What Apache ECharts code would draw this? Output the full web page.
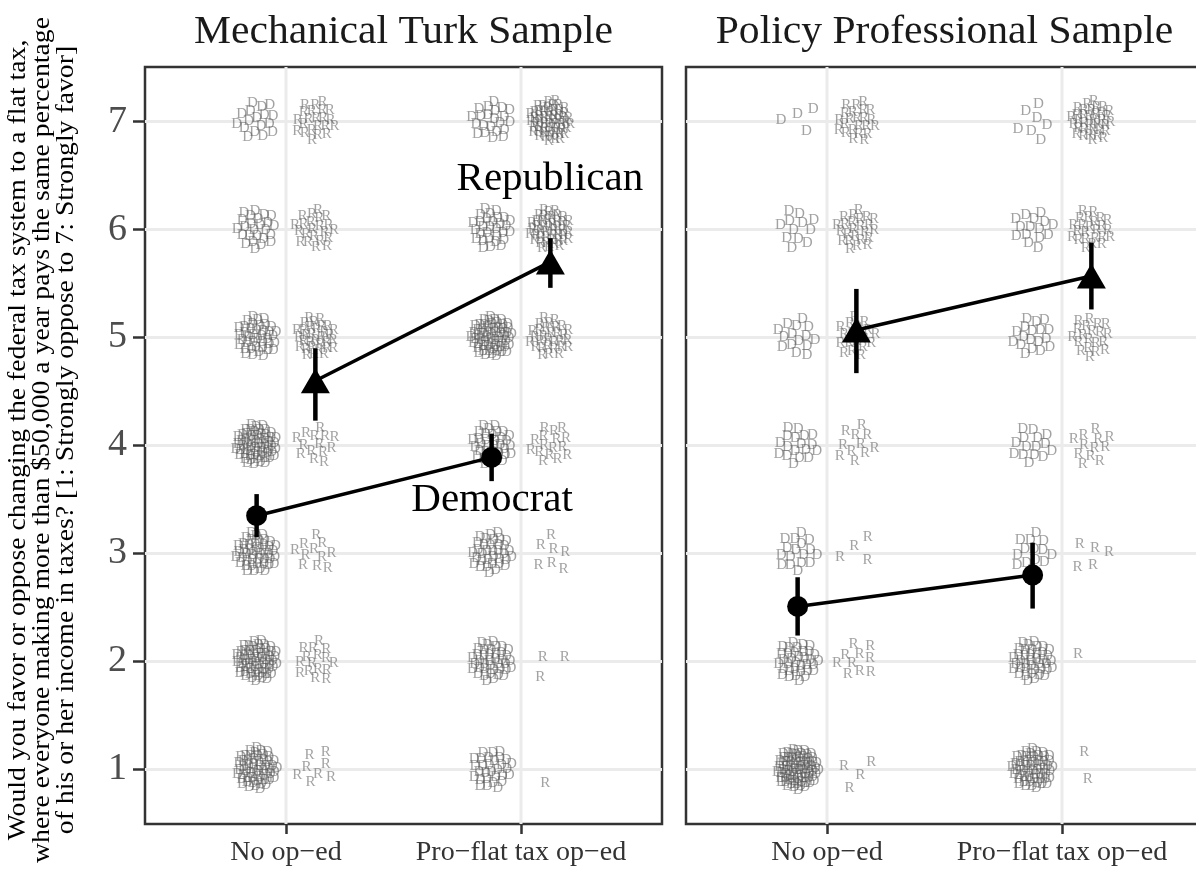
<!DOCTYPE html>
<html>
<head>
<meta charset="utf-8">
<script src="https://cdn.jsdelivr.net/npm/echarts@6/dist/echarts.min.js"></script>
<style>html,body{margin:0;padding:0;background:#fff;overflow:hidden}#c{width:1212px;height:873px}</style>
</head>
<body>
<div id="c"></div>
<script>
// ---------- data ----------
const panels = ['Mechanical Turk Sample', 'Policy Professional Sample'];
const conditions = ['No op\u2212ed', 'Pro\u2212flat tax op\u2212ed'];
const conditionPos = [1, 2];
const yTicks = [1, 2, 3, 4, 5, 6, 7];
// respondent counts at response levels 1..7
const mturkDemNoOped  = [55, 60, 45, 60, 40, 25, 17];
const mturkDemProOped = [30, 40, 35, 35, 60, 30, 22];
const mturkRepNoOped  = [8, 16, 11, 14, 32, 22, 22];
const mturkRepProOped = [1, 3, 7, 16, 30, 45, 55];
const profDemNoOped   = [75, 35, 17, 18, 15, 12, 4];
const profDemProOped  = [55, 40, 14, 15, 18, 15, 7];
const profRepNoOped   = [4, 10, 4, 11, 18, 24, 23];
const profRepProOped  = [2, 1, 5, 12, 20, 24, 35];
// means and 95% intervals [no op-ed, pro op-ed]
const mturkDemMean = [3.35, 3.89], mturkDemLo = [3.15, 3.67], mturkDemHi = [3.55, 4.11];
const mturkRepMean = [4.60, 5.70], mturkRepLo = [4.23, 5.46], mturkRepHi = [4.90, 5.92];
const profDemMean  = [2.51, 2.80], profDemLo  = [2.24, 2.49], profDemHi  = [2.78, 3.10];
const profRepMean  = [5.07, 5.57], profRepLo  = [4.67, 5.26], profRepHi  = [5.45, 5.88];
// in-plot labels (left panel)
const annoText = ['Republican', 'Democrat'];
const annoX = [2.123, 1.877];
const annoY = [6.47, 3.49];

// ---------- layout ----------
const DODGE = 0.125;
const RADIUS = 21;           // px spread of respondent letters
const GOLDEN = 2.399963;
const FONT = '"Liberation Serif", "Times New Roman", serif';
const gridTop = 67, gridH = 757, gridW = 517;
const gridLefts = [145, 686];
const xMin = 0.4, xMax = 2.6, yMin = 0.495, yMax = 7.505;

function spread(counts, xPos) {
  const out = [];
  counts.forEach((n, k) => {
    for (let i = 0; i < n; i++) {
      const r = RADIUS * Math.sqrt((i + 0.5) / n);
      const th = i * GOLDEN + k * 1.7 + xPos * 0.9;
      out.push([xPos, yTicks[k], r * Math.cos(th), r * Math.sin(th)]);
    }
  });
  return out;
}

function letterSeries(gi, letter, countsArr) {
  let data = [];
  countsArr.forEach((c, ci) => {
    const off = letter === 'D' ? -DODGE : DODGE;
    data = data.concat(spread(c, conditionPos[ci] + off));
  });
  return {
    type: 'custom', xAxisIndex: gi, yAxisIndex: gi, z: 3, silent: true,
    data: data,
    renderItem: function (params, api) {
      const p = api.coord([api.value(0), api.value(1)]);
      return {
        type: 'text', x: p[0] + api.value(2), y: p[1] + api.value(3), scaleX: 1.08,
        style: { text: letter, fill: 'rgba(85,85,85,0.55)', fontSize: 14,
                 fontFamily: FONT, align: 'center', verticalAlign: 'middle' }
      };
    }
  };
}

function gridLineSeries(gi) {
  const data = yTicks.map(v => [0, v, 0]).concat(conditionPos.map(v => [v, 0, 1]));
  return {
    type: 'custom', xAxisIndex: gi, yAxisIndex: gi, z: 1, silent: true, data: data,
    renderItem: function (params, api) {
      const cs = params.coordSys;
      const horiz = api.value(2) === 0;
      const p = api.coord([horiz ? 1 : api.value(0), horiz ? api.value(1) : 1]);
      const shape = horiz ? { x1: cs.x, y1: p[1], x2: cs.x + cs.width, y2: p[1] }
                          : { x1: p[0], y1: cs.y, x2: p[0], y2: cs.y + cs.height };
      return { type: 'line', shape: shape, style: { stroke: '#ebebeb', lineWidth: 3 } };
    }
  };
}

function meanSeries(gi, mean, lo, hi, isDem) {
  const off = isDem ? -DODGE : DODGE;
  const xs = conditionPos.map(x => x + off);
  return [
    { type: 'line', xAxisIndex: gi, yAxisIndex: gi, z: 5, silent: true, symbol: 'none',
      data: xs.map((x, i) => [x, mean[i]]), lineStyle: { color: '#000', width: 3.5 } },
    { type: 'custom', xAxisIndex: gi, yAxisIndex: gi, z: 6, silent: true,
      data: xs.map((x, i) => [x, lo[i], hi[i]]),
      renderItem: function (params, api) {
        const a = api.coord([api.value(0), api.value(1)]);
        const b = api.coord([api.value(0), api.value(2)]);
        return { type: 'line', shape: { x1: a[0], y1: a[1], x2: b[0], y2: b[1] },
                 style: { stroke: '#000', lineWidth: 4.5 } };
      } },
    { type: 'scatter', xAxisIndex: gi, yAxisIndex: gi, z: 7, silent: true,
      symbol: isDem ? 'circle' : 'triangle', symbolSize: isDem ? 21 : [29, 25],
      itemStyle: { color: '#000', opacity: 1 },
      data: xs.map((x, i) => [x, mean[i]]) }
  ];
}

const grids = gridLefts.map(l => ({
  left: l, top: gridTop, width: gridW, height: gridH,
  show: true, borderColor: '#333', borderWidth: 2.5, backgroundColor: '#fff'
}));

const xAxes = [0, 1].map(gi => ({
  gridIndex: gi, type: 'value', min: xMin, max: xMax,
  axisLine: { show: false }, splitLine: { show: false },
  axisTick: { show: true, customValues: conditionPos, length: 10, lineStyle: { color: '#333', width: 2.5 } },
  axisLabel: { show: true, customValues: conditionPos, margin: 15,
    formatter: v => conditions[conditionPos.indexOf(Math.round(v))] || '',
    fontFamily: FONT, fontSize: 28, color: '#333' }
}));

const yAxes = [0, 1].map(gi => ({
  gridIndex: gi, type: 'value', min: yMin, max: yMax,
  axisLine: { show: false }, splitLine: { show: false },
  axisTick: { show: gi === 0, customValues: yTicks, length: 12, lineStyle: { color: '#333', width: 2.5 } },
  axisLabel: { show: gi === 0, customValues: yTicks, margin: 18,
    fontFamily: FONT, fontSize: 38, color: '#4d4d4d' }
}));

const series = [
  gridLineSeries(0), gridLineSeries(1),
  letterSeries(0, 'D', [mturkDemNoOped, mturkDemProOped]),
  letterSeries(0, 'R', [mturkRepNoOped, mturkRepProOped]),
  letterSeries(1, 'D', [profDemNoOped, profDemProOped]),
  letterSeries(1, 'R', [profRepNoOped, profRepProOped]),
  ...meanSeries(0, mturkDemMean, mturkDemLo, mturkDemHi, true),
  ...meanSeries(0, mturkRepMean, mturkRepLo, mturkRepHi, false),
  ...meanSeries(1, profDemMean, profDemLo, profDemHi, true),
  ...meanSeries(1, profRepMean, profRepLo, profRepHi, false),
  { type: 'custom', xAxisIndex: 0, yAxisIndex: 0, z: 8, silent: true,
    data: annoText.map((t, i) => [annoX[i], annoY[i], i]),
    renderItem: function (params, api) {
      const p = api.coord([api.value(0), api.value(1)]);
      return { type: 'text', x: p[0], y: p[1],
        style: { text: annoText[api.value(2)], fill: '#000', fontSize: 41, fontFamily: FONT,
                 align: 'center', verticalAlign: 'middle' } };
    } }
];

const chart = echarts.init(document.getElementById('c'), null, { renderer: 'canvas' });
chart.setOption({
  animation: false,
  backgroundColor: '#fff',
  grid: grids, xAxis: xAxes, yAxis: yAxes, series: series,
  graphic: [
    { type: 'text', x: gridLefts[0] + gridW / 2, y: 32, scaleX: 1.04,
      style: { text: panels[0], fontSize: 40, fontFamily: FONT, fill: '#1a1a1a', align: 'center', verticalAlign: 'middle' } },
    { type: 'text', x: gridLefts[1] + gridW / 2, y: 32, scaleX: 1.04,
      style: { text: panels[1], fontSize: 40, fontFamily: FONT, fill: '#1a1a1a', align: 'center', verticalAlign: 'middle' } },
    { type: 'text', x: 42, y: 440, rotation: Math.PI / 2, scaleX: 1.11,
      style: { text: 'Would you favor or oppose changing the federal tax system to a flat tax,\nwhere everyone making more than $50,000 a year pays the same percentage\nof his or her income in taxes? [1: Strongly oppose to 7: Strongly favor]',
        fontSize: 25, lineHeight: 24, fontFamily: FONT, fill: '#000', align: 'center', verticalAlign: 'middle' } }
  ]
});
</script>
</body>
</html>
